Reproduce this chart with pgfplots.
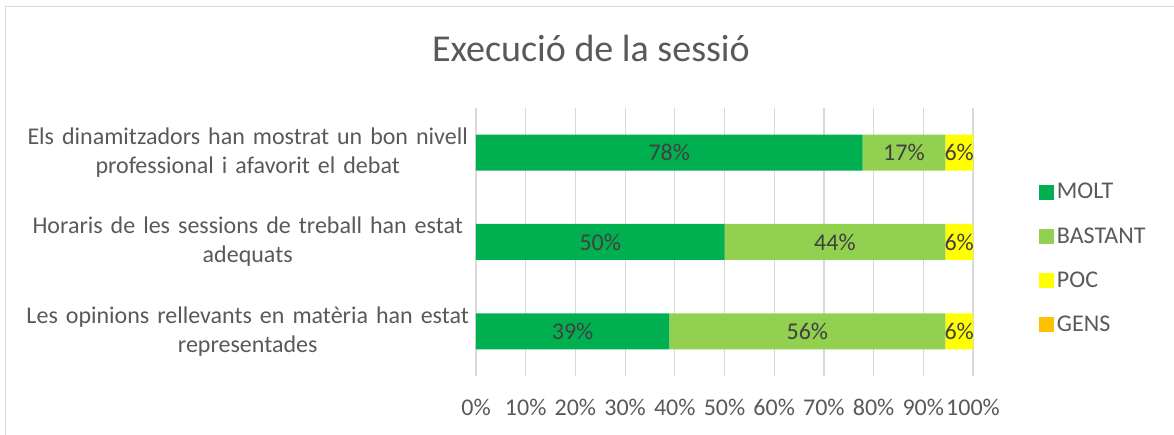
\documentclass[border=0pt]{standalone}
\usepackage{fontspec}
\setmainfont{Carlito}
\usepackage{pgfplots}
\pgfplotsset{compat=1.18}
\definecolor{molt}{HTML}{00B050}
\definecolor{bastant}{HTML}{92D050}
\definecolor{poc}{HTML}{FFFF00}
\definecolor{gens}{HTML}{FFC000}
\definecolor{txt}{HTML}{595959}
\definecolor{lbl}{HTML}{404040}
\definecolor{gridc}{HTML}{D9D9D9}
\pgfplotsset{
  sqlegend/.style={legend image code/.code={\fill[##1] (0pt,-5.6pt) rectangle (11.2pt,5.6pt);}},
  plotbox/.style={at={(357pt,44.25pt)}, anchor=south west,
    scale only axis, width=372.75pt, height=201pt,
    xmin=0, xmax=100, ymin=-0.5, ymax=2.5},
}
\newcommand{\chartfont}{\fontsize{18}{21.75}\selectfont}

\begin{document}
\begin{tikzpicture}
% canvas 1174x435 px at 0.75pt per px
\useasboundingbox (0,0) rectangle (880.5pt,326.25pt);
\draw[gridc, line width=1.2pt] (4.1pt,0) -- (4.1pt,321.4pt) -- (880.5pt,321.4pt);
\node[anchor=base, text=txt, font=\fontsize{28.5}{32}\selectfont] at (443.25pt,279.75pt) {Execució de la sessió};
\begin{axis}[
  plotbox,
  xbar stacked, bar width=27pt,
  xtick={0,10,...,100},
  xticklabel={\pgfmathprintnumber{\tick}\%},
  /pgf/number format/assume math mode=true,
  ytick={0,1,2},
  yticklabels={{Les opinions rellevants en matèria han estat\\representades},
               {Horaris de les sessions de treball han estat\\adequats},
               {Els dinamitzadors han mostrat un bon nivell\\professional i afavorit el debat}},
  yticklabel style={anchor=east, inner sep=0pt, xshift=1.5pt, text width=345pt,
    align=center, font=\chartfont, text=txt},
  xticklabel style={anchor=center, inner sep=0pt, yshift=-23.6pt, font=\chartfont, text=txt},
  axis line style={draw=none},
  tick style={draw=none},
  xmajorgrids, grid style={gridc, line width=0.9pt},
  every axis plot post/.append style={sqlegend},
  legend style={draw=none, fill=none, at={(axis description cs:1.133,0.73)}, anchor=north west,
    font=\chartfont, text=txt, row sep=16pt, inner sep=0pt,
    /tikz/every even column/.append style={column sep=4pt}},
  legend cell align=left,
]
\addplot[fill=molt, draw=none] coordinates {(38.89,0) (50,1) (77.78,2)};
\addplot[fill=bastant, draw=none] coordinates {(55.56,0) (44.44,1) (16.67,2)};
\addplot[fill=poc, draw=none] coordinates {(5.56,0) (5.56,1) (5.56,2)};
\addlegendentry{MOLT}
\addlegendentry{BASTANT}
\addlegendentry{POC}
\addlegendimage{fill=gens, draw=none, sqlegend}
\addlegendentry{GENS}
\end{axis}
% data labels at the middle of each segment
\begin{axis}[
  plotbox, hide axis,
  /pgf/number format/assume math mode=true,
  point meta=explicit,
  nodes near coords={\pgfmathprintnumber{\pgfplotspointmeta}\%},
  nodes near coords style={anchor=center, inner sep=0pt, font=\chartfont, text=lbl},
]
\addplot[draw=none, mark=none] coordinates {
  (19.44,0) [39] (66.67,0) [56] (97.22,0) [6]
  (25.00,1) [50] (72.22,1) [44] (97.22,1) [6]
  (38.89,2) [78] (86.11,2) [17] (97.22,2) [6]
};
\end{axis}
\end{tikzpicture}
\end{document}
